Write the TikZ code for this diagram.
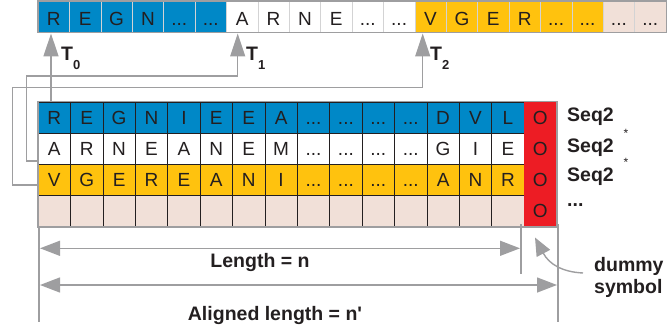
\documentclass[tikz,border=0pt]{standalone}
\usepackage{fontspec}
\setmainfont{Liberation Sans}
\newfontfamily\nomap{Liberation Sans}
\usetikzlibrary{arrows.meta}
\definecolor{cblue}{RGB}{0,136,199}
\definecolor{cyel}{RGB}{255,194,14}
\definecolor{cpink}{RGB}{241,224,216}
\definecolor{cred}{RGB}{237,28,36}
\definecolor{cgray}{RGB}{158,158,160}
\definecolor{ctext}{RGB}{35,31,32}
\def\dd{...}
\begin{document}
\begin{tikzpicture}[x=1pt,y=-1pt,
  topcell/.style={draw=cgray!45, line width=0.6pt, minimum width=31.4pt, minimum height=31pt,
    inner sep=0pt, text height=16.5pt, text depth=0pt, font=\fontsize{19}{19}\selectfont, text=ctext, anchor=north west},
  botcell/.style={draw=ctext, line width=0.8pt, minimum width=32.4pt, minimum height=31.1pt,
    inner sep=0pt, text height=13.7pt, text depth=0pt, font=\fontsize{19}{19}\selectfont, text=ctext, anchor=north west},
  frame/.style={draw=cgray, line width=1.6pt},
  conn/.style={draw=cgray, line width=1.4pt},
  uptip/.style={-{Triangle[length=23pt,width=15pt]}},
  dimtip/.style={{Triangle[length=20pt,width=15pt]}-{Triangle[length=20pt,width=15pt]}},
  lab/.style={font=\fontsize{19.5}{22}\selectfont\bfseries, text=ctext, inner sep=0pt},
  star/.style={font=\fontsize{12}{12}\selectfont, text=ctext, inner sep=0pt},
]
\useasboundingbox (0,0) rectangle (668,331);

% ---- top sequence ----
\foreach \t/\c [count=\i] in {R/cblue,E/cblue,G/cblue,N/cblue,\dd/cblue,\dd/cblue,
  A/white,R/white,N/white,E/white,\dd/white,\dd/white,
  V/cyel,G/cyel,E/cyel,R/cyel,\dd/cyel,\dd/cyel,\dd/cpink,\dd/cpink}
  \node[topcell, fill=\c] (t\i) at ({37.7+(\i-1)*31.4},1) {\t};
\draw[frame] (t1.north west) rectangle (t20.south east);

% ---- alignment table ----
\foreach \t [count=\i] in {R,E,G,N,I,E,E,A,\dd,\dd,\dd,\dd,D,V,L}
  \node[botcell, fill=cblue] (a\i) at ({37.7+(\i-1)*32.4},101.7) {\t};
\foreach \t [count=\i] in {A,R,N,E,A,N,E,M,\dd,\dd,\dd,\dd,G,I,E}
  \node[botcell, fill=white] (b\i) at ({37.7+(\i-1)*32.4},132.8) {\t};
\foreach \t [count=\i] in {V,G,E,R,E,A,N,I,\dd,\dd,\dd,\dd,A,N,R}
  \node[botcell, fill=cyel] (c\i) at ({37.7+(\i-1)*32.4},163.9) {\t};
\foreach \i in {1,...,15}
  \node[botcell, fill=cpink] (d\i) at ({37.7+(\i-1)*32.4},195) {};
\node[botcell, fill=cred, draw=cred] (a16) at (523.7,101.7) {O};
\node[botcell, fill=cred, draw=cred] (b16) at (523.7,132.8) {O};
\node[botcell, fill=cred, draw=cred] (c16) at (523.7,163.9) {O};
\node[botcell, fill=cred, draw=cred] (d16) at (523.7,195) {O};
\draw[frame] (a1.north west) rectangle (d16.south east);

% ---- row labels ----
\node[lab, anchor=west] (s1) at (567,116.5) {Seq2};
\node[lab, anchor=west] (s2) at (567,148) {Seq2};
\node[lab, anchor=west] (s3) at (567,177) {Seq2};
\node[lab, anchor=west] (s4) at (567,205) {...};
\node[star] (st1) at (626,133) {*};
\node[star] (st2) at (626,162) {*};

% ---- T arrows ----
\coordinate (T0tip) at (51,33.5);
\coordinate (T0base) at (51,101.7);
\coordinate (T1tip) at (237.7,33.5);
\coordinate (T2tip) at (422.7,33.5);
\coordinate (b1w) at (37.7,161);
\coordinate (c1w) at (37.7,185);
\draw[conn, uptip] (T0base) -- (T0tip);
\draw[conn, uptip] (b1w) -| (26.7,76) -| (T1tip);
\draw[conn, uptip] (c1w) -| (12.7,87.3) -| (T2tip);
\node[lab, anchor=base west, font=\fontsize{19.5}{19}\selectfont\bfseries] (T0) at (61,61)
  {T\raisebox{-8.3pt}{\fontsize{13}{13}\selectfont\bfseries 0}};
\node[lab, anchor=base west, font=\fontsize{19.5}{19}\selectfont\bfseries] (T1) at (246,61)
  {T\raisebox{-8.3pt}{\fontsize{13}{13}\selectfont\bfseries 1}};
\node[lab, anchor=base west, font=\fontsize{19.5}{19}\selectfont\bfseries] (T2) at (430,61)
  {T\raisebox{-8.3pt}{\fontsize{13}{13}\selectfont\bfseries 2}};

% ---- length dimensions ----
\coordinate (vL0) at (39,226);
\coordinate (vL1) at (39,322);
\coordinate (vM0) at (521,224);
\coordinate (vM1) at (521,273.5);
\coordinate (vR0) at (558,224);
\coordinate (vR1) at (558,322);
\draw[conn, line width=2pt] (vL0) -- (vL1);
\draw[conn, line width=2pt] (vM0) -- (vM1);
\draw[conn, line width=2pt] (vR0) -- (vR1);
\coordinate (n1a) at (40,248.3);
\coordinate (n1b) at (520,248.3);
\coordinate (n2a) at (40,285);
\coordinate (n2b) at (557,285);
\draw[conn, dimtip] (n1a) -- (n1b);
\draw[conn, dimtip] (n2a) -- (n2b);
\node[lab] (len) at (260,262) {Length = n};
\node[lab, font=\fontsize{19.5}{22}\nomap\bfseries] (alen) at (275,315) {Aligned length = n'};

% ---- dummy symbol ----
\node[lab, anchor=west, align=left] (dummy) at (594,277.5) {dummy\\symbol};
\coordinate (dstart) at (583,273);
\coordinate (dtip) at (535,237.5);
\draw[conn, -{Triangle[length=18pt,width=15pt]}] (dstart) .. controls (562,272) and (549,264) .. (dtip);
\end{tikzpicture}
\end{document}
